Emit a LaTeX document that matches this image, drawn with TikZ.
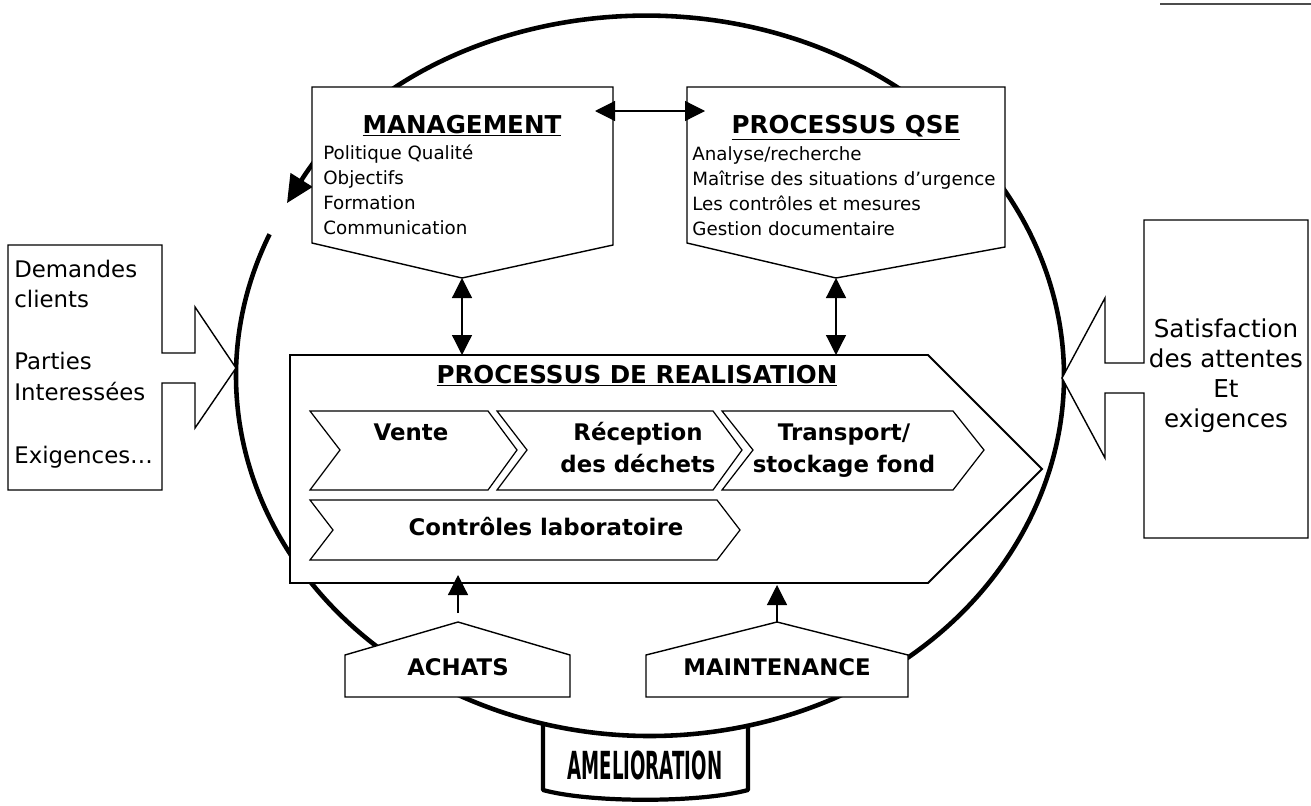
\documentclass[tikz,border=0pt]{standalone}
\usepackage{fontspec}
\setmainfont{DejaVu Sans}
\usepackage{graphicx}
\usetikzlibrary{arrows.meta}

\begin{document}
\begin{tikzpicture}[
    x=0.02cm, y=0.02cm,
    frame/.style={draw=black, line width=0.8pt, fill=white, line join=miter},
    chevron/.style={draw=black, line width=0.7pt, fill=white},
    ring/.style={line width=2.6pt,
                 -{Triangle[length=0.55cm, width=0.5cm]}},
    link/.style={{Triangle[length=0.4cm, width=0.4cm]}-{Triangle[length=0.4cm, width=0.4cm]},
                 line width=0.7pt},
    feed/.style={-{Triangle[length=0.4cm, width=0.4cm]}, line width=0.7pt},
    boxtitle/.style={font=\fontsize{14}{16}\selectfont\bfseries,
                     anchor=base, inner sep=0pt},
    item/.style={font=\fontsize{10.4}{12}\selectfont,
                 anchor=base west, inner sep=0pt},
    stage/.style={font=\fontsize{13}{15}\selectfont\bfseries,
                  anchor=base, inner sep=0pt},
    side/.style={font=\fontsize{13}{15}\selectfont,
                 anchor=base west, inner sep=0pt},
    goal/.style={font=\fontsize{14}{16}\selectfont,
                 anchor=base, inner sep=0pt},
]
\useasboundingbox (0,0) rectangle (1311,-805);

% Improvement ring (open at top left, arrow pointing down-left)
\draw[ring] (650,-376) ++(156.8:8.28cm and 7.2cm)
    arc[start angle=156.8, end angle=511.3, x radius=8.28cm, y radius=7.2cm];

% scan edge top right
\draw[line width=0.6pt, black!70] (1160,-4) -- (1311,-4);

% Input: customer demands
\draw[frame] (8,-245) -- (162,-245) -- (162,-353) -- (195,-353) -- (195,-307)
    -- (236,-368) -- (195,-428) -- (195,-383) -- (162,-383) -- (162,-490)
    -- (8,-490) -- cycle;
\node[side] (dem1) at (14,-277) {Demandes};
\node[side] (dem2) at (14,-307) {clients};
\node[side] (par1) at (14,-369) {Parties};
\node[side] (par2) at (14,-400) {Interessées};
\node[side] (exi) at (14,-463) {Exigences…};

% Output: satisfaction
\draw[frame] (1144,-220) -- (1308,-220) -- (1308,-538) -- (1144,-538)
    -- (1144,-393) -- (1105,-393) -- (1105,-458) -- (1062,-378)
    -- (1105,-298) -- (1105,-363) -- (1144,-363) -- cycle;
\node[goal] (sat1) at (1226,-337) {Satisfaction};
\node[goal] (sat2) at (1226,-367) {des attentes};
\node[goal] (sat3) at (1226,-397) {Et};
\node[goal] (sat4) at (1226,-427) {exigences};

% MANAGEMENT
\coordinate (mgmt-tip) at (462,-278);
\coordinate (mgmt-e) at (595,-111);
\draw[frame] (312,-87) -- (613,-87) -- (613,-245) -- (mgmt-tip)
    -- (312,-243) -- cycle;
\node[boxtitle] (mgmt) at (462,-133) {\underline{MANAGEMENT}};
\node[item] (pol) at (323,-159) {Politique Qualité};
\node[item] (obj) at (323,-184) {Objectifs};
\node[item] (form) at (323,-209) {Formation};
\node[item] (comm) at (323,-234) {Communication};

% PROCESSUS QSE
\coordinate (qse-tip) at (836,-278);
\coordinate (qse-w) at (705,-111);
\draw[frame] (687,-87) -- (1005,-87) -- (1005,-247) -- (qse-tip)
    -- (687,-243) -- cycle;
\node[boxtitle] (qse) at (846,-133) {\underline{PROCESSUS QSE}};
\node[item] (ana) at (692,-160) {Analyse/recherche};
\node[item] (urg) at (692,-185) {Maîtrise des situations d’urgence};
\node[item] (ctl) at (692,-210) {Les contrôles et mesures};
\node[item] (doc) at (692,-235) {Gestion documentaire};

% PROCESSUS DE REALISATION
\coordinate (real-n1) at (462,-355);
\coordinate (real-n2) at (836,-355);
\coordinate (real-s1) at (458,-575);
\coordinate (real-s2) at (777,-585);
\draw[frame, line width=1.1pt] (290,-355) -- (928,-355) -- (1042,-469)
    -- (928,-583) -- (290,-583) -- cycle;
\node[boxtitle] (real) at (637,-383) {\underline{PROCESSUS DE REALISATION}};

% chevrons
\draw[chevron] (310,-411) -- (488,-411) -- (517,-450) -- (488,-490)
    -- (310,-490) -- (340,-450) -- cycle;
\draw[chevron] (497,-411) -- (713,-411) -- (742,-450) -- (713,-490)
    -- (497,-490) -- (527,-450) -- cycle;
\draw[chevron] (722,-411) -- (953,-411) -- (984,-450) -- (953,-490)
    -- (722,-490) -- (753,-450) -- cycle;
\draw[chevron] (310,-500) -- (717,-500) -- (740,-530) -- (717,-560)
    -- (310,-560) -- (333,-530) -- cycle;
\node[stage] (vente) at (411,-440) {Vente};
\node[stage] (recep1) at (638,-440) {Réception};
\node[stage] (recep2) at (638,-472) {des déchets};
\node[stage] (trans1) at (844,-440) {Transport/};
\node[stage] (trans2) at (844,-472) {stockage fond};
\node[stage] (labo) at (546,-535) {Contrôles laboratoire};

% Support: ACHATS, MAINTENANCE
\coordinate (ach-tip) at (458,-622);
\draw[frame] (345,-697) -- (345,-655) -- (ach-tip) -- (570,-655)
    -- (570,-697) -- cycle;
\node[stage] (achats) at (458,-675) {ACHATS};
\coordinate (mnt-tip) at (777,-622);
\draw[frame] (646,-697) -- (646,-655) -- (mnt-tip) -- (908,-655)
    -- (908,-697) -- cycle;
\node[stage] (maint) at (777,-675) {MAINTENANCE};

% Links
\draw[link] (mgmt-e) -- (qse-w);
\draw[link] (mgmt-tip) -- (real-n1);
\draw[link] (qse-tip) -- (real-n2);
\draw[feed, shorten <=5pt] (ach-tip) -- (real-s1);
\draw[feed] (mnt-tip) -- (real-s2);

% AMELIORATION tab
\draw[line width=2.4pt, line join=round] (543,-724) -- (543,-790)
    .. controls (590,-803) and (700,-803) .. (748,-790) -- (748,-726);
\node[font=\fontsize{22}{22}\selectfont\bfseries, inner sep=0pt]
    (amel) at (645,-765) {\scalebox{0.47}[1]{AMELIORATION}};

\end{tikzpicture}
\end{document}
